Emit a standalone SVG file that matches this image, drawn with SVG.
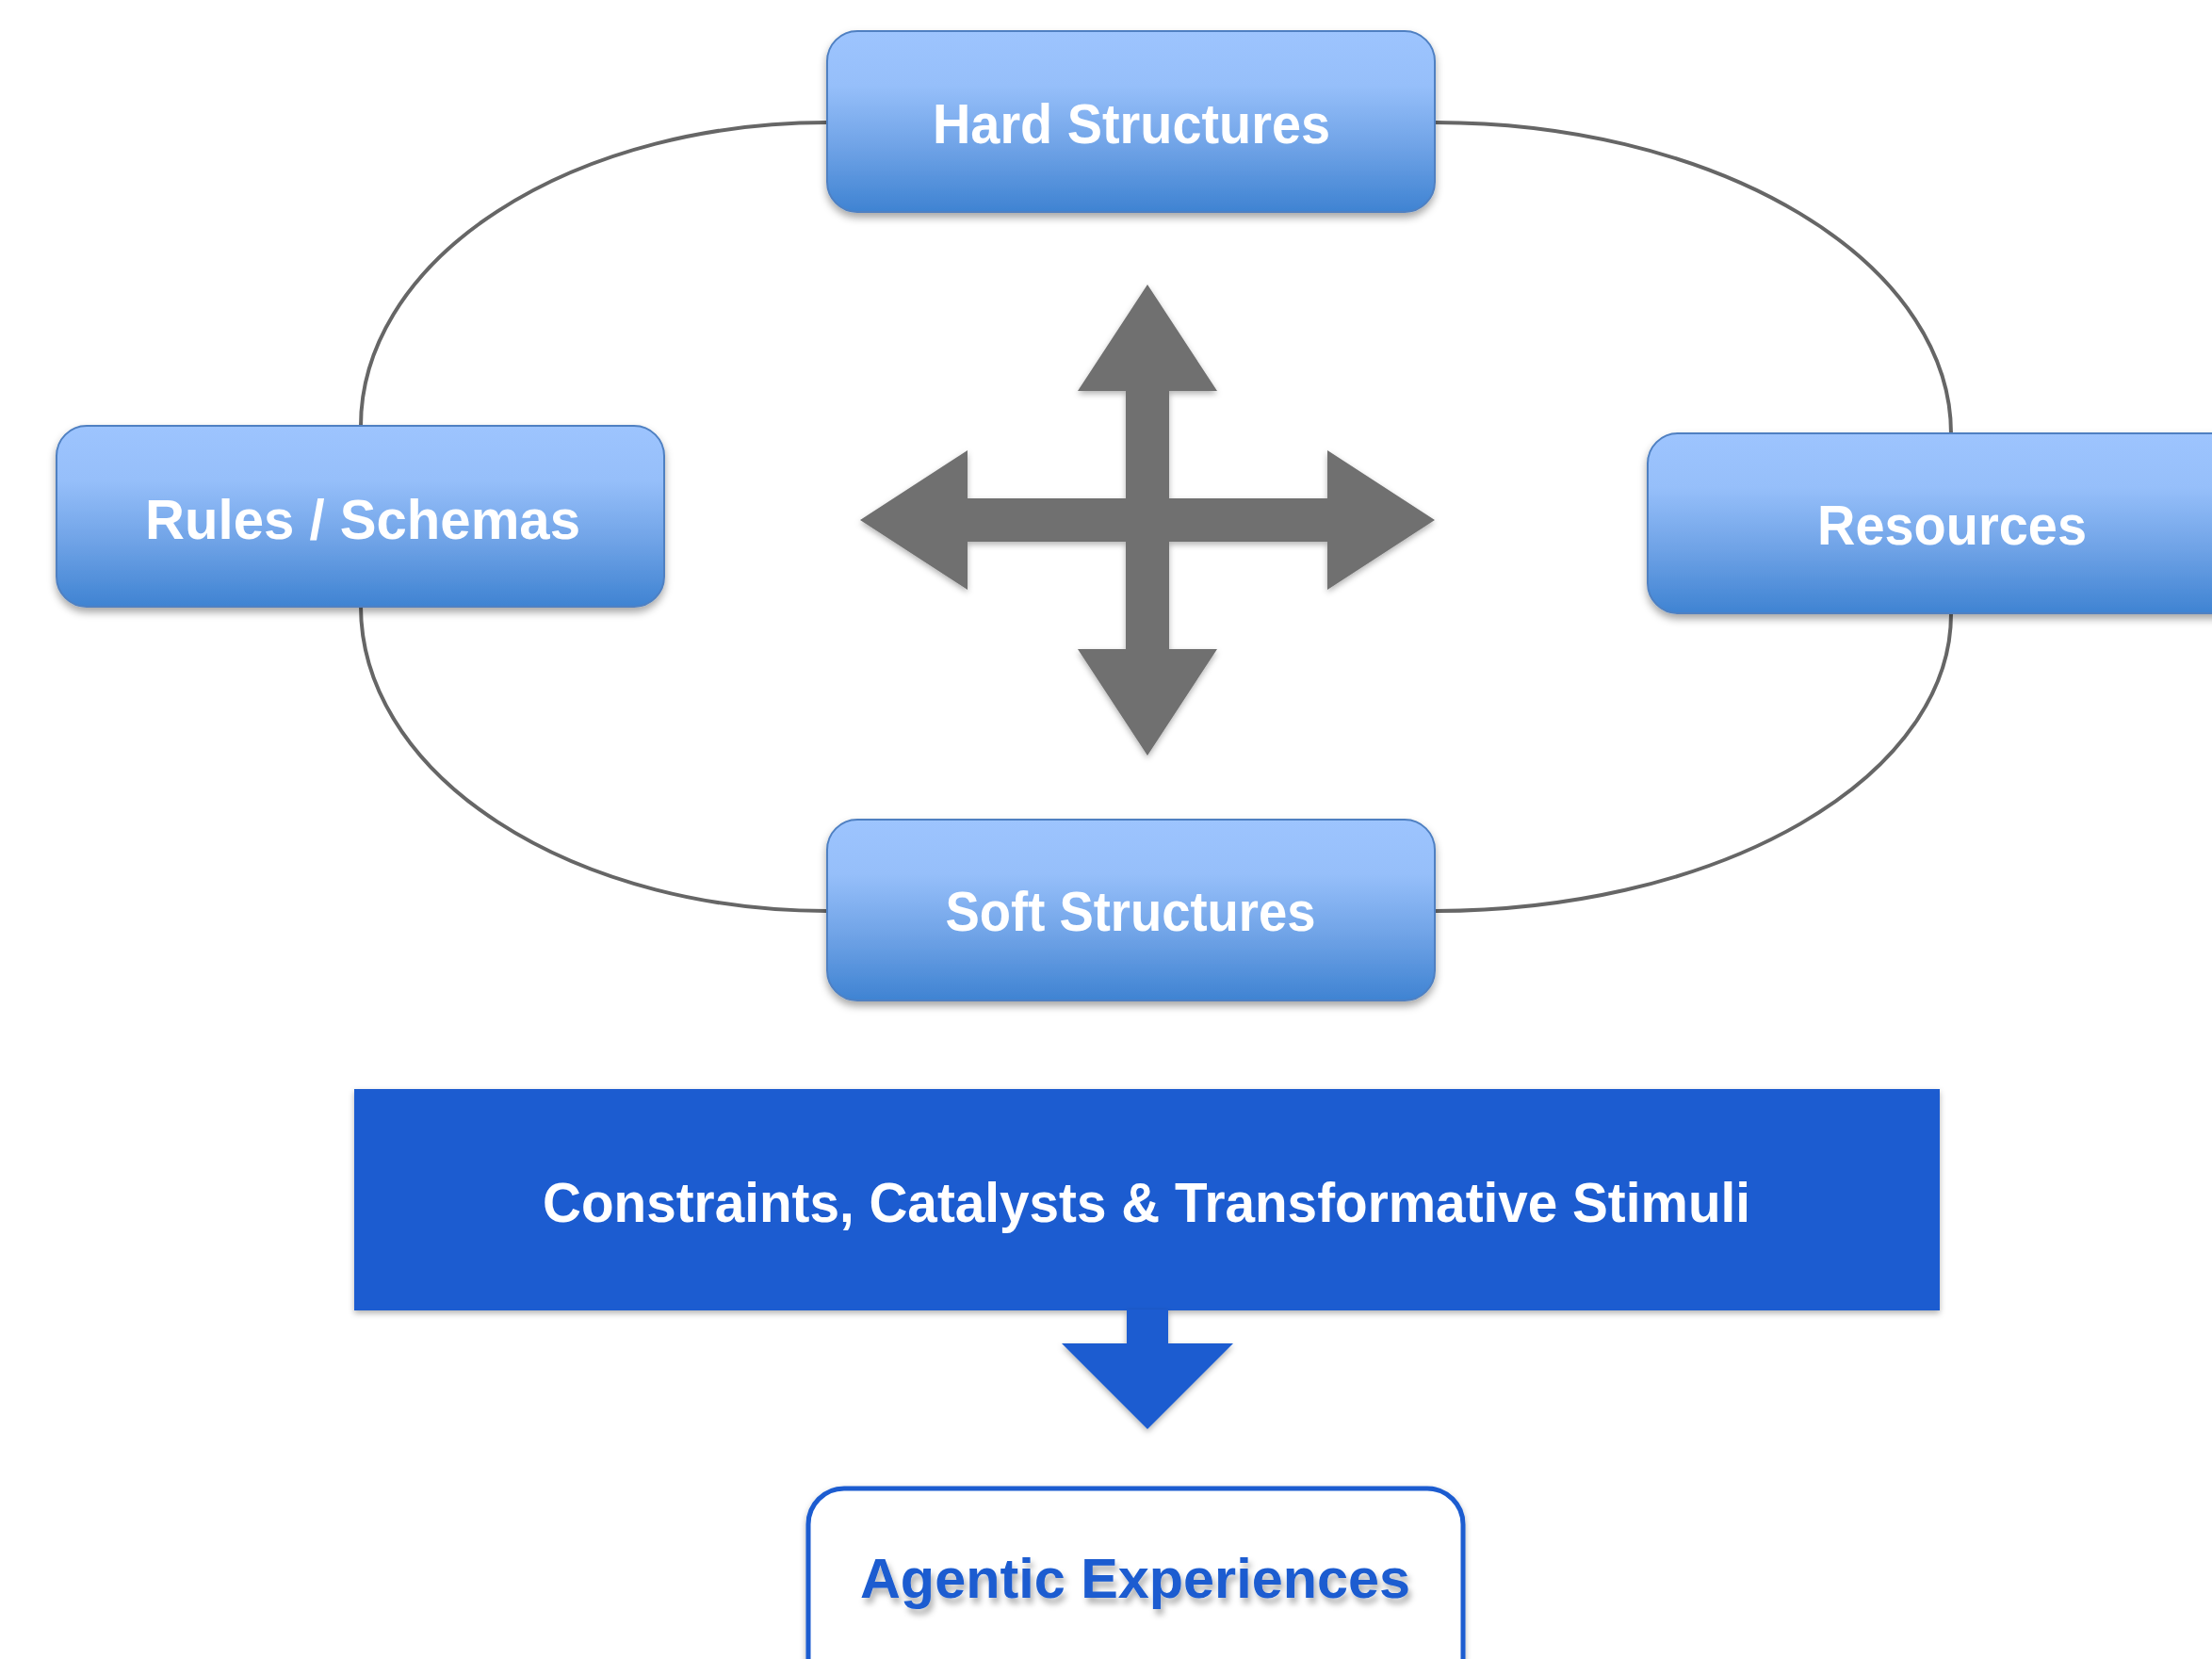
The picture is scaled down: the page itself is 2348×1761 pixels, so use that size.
<svg xmlns="http://www.w3.org/2000/svg" width="2348" height="1761" viewBox="0 0 2348 1761">
<style>
.lbl{font-family:"Liberation Sans",Arial,sans-serif;font-weight:bold;font-size:60px;fill:#ffffff;text-anchor:middle}
.box{fill:url(#bg);stroke:#4F80C2;stroke-width:2;filter:url(#sh)}
.conn{fill:none;stroke:#666666;stroke-width:4}
</style>
<defs>
<linearGradient id="bg" x1="0" y1="0" x2="0" y2="1">
<stop offset="0" stop-color="#9DC4FE"/>
<stop offset="0.3" stop-color="#96BFFA"/>
<stop offset="0.65" stop-color="#6EA2E6"/>
<stop offset="1" stop-color="#3F83D2"/>
</linearGradient>
<filter id="sh" x="-10%" y="-10%" width="120%" height="130%">
<feDropShadow dx="0" dy="5" stdDeviation="4" flood-color="#000" flood-opacity="0.35"/>
</filter>
<filter id="tsh" x="-10%" y="-20%" width="120%" height="150%">
<feDropShadow dx="3" dy="6" stdDeviation="3" flood-color="#000" flood-opacity="0.3"/>
</filter>
<filter id="ash" x="-10%" y="-10%" width="120%" height="130%">
<feDropShadow dx="0" dy="3" stdDeviation="3" flood-color="#000" flood-opacity="0.3"/>
</filter>
</defs>
<rect width="2348" height="1761" fill="#ffffff"/>
<g id="connectors">
<path class="conn" d="M878,130 A495,322 0 0 0 383,452"/>
<path class="conn" d="M383,644 A495,323 0 0 0 878,967"/>
<path class="conn" d="M1523,130 A548,330 0 0 1 2071,460"/>
<path class="conn" d="M2071,651 A548,315 0 0 1 1523,967"/>
</g>
<g id="cross">
<polygon fill="#707070" filter="url(#ash)" points="1218,302 1292,415 1241,415 1241,529 1409,529 1409,478 1523,552 1409,626 1409,575 1241,575 1241,689 1292,689 1218,802 1144,689 1195,689 1195,575 1027,575 1027,626 913,552 1027,478 1027,529 1195,529 1195,415 1144,415"/>
</g>
<g id="hard">
<rect class="box" x="878" y="33" width="645" height="192" rx="32"/>
<text class="lbl" x="1201" y="152" textLength="422" lengthAdjust="spacingAndGlyphs">Hard Structures</text>
</g>
<g id="rules">
<rect class="box" x="60" y="452" width="645" height="192" rx="32"/>
<text class="lbl" x="385" y="572" textLength="462" lengthAdjust="spacingAndGlyphs">Rules / Schemas</text>
</g>
<g id="resources">
<rect class="box" x="1749" y="460" width="645" height="191" rx="32"/>
<text class="lbl" x="2072" y="578" textLength="286" lengthAdjust="spacingAndGlyphs">Resources</text>
</g>
<g id="soft">
<rect class="box" x="878" y="870" width="645" height="192" rx="32"/>
<text class="lbl" x="1200" y="988" textLength="393" lengthAdjust="spacingAndGlyphs">Soft Structures</text>
</g>
<g id="banner">
<rect x="376" y="1156" width="1683" height="235" fill="#1A5BD0" filter="url(#ash)"/>
<text class="lbl" x="1217" y="1297" textLength="1282" lengthAdjust="spacingAndGlyphs">Constraints, Catalysts &amp; Transformative Stimuli</text>
</g>
<g id="down-arrow">
<polygon fill="#1A5BD0" filter="url(#ash)" points="1196,1390 1240,1390 1240,1426 1309,1426 1218,1517 1127,1426 1196,1426"/>
</g>
<g id="agentic">
<rect x="858" y="1580" width="695" height="220" rx="38" fill="#ffffff" stroke="#1A5BD0" stroke-width="5" filter="url(#ash)"/>
<text class="lbl" x="1205" y="1696" textLength="584" lengthAdjust="spacingAndGlyphs" style="fill:#1A5BD0" filter="url(#tsh)">Agentic Experiences</text>
</g>
</svg>
